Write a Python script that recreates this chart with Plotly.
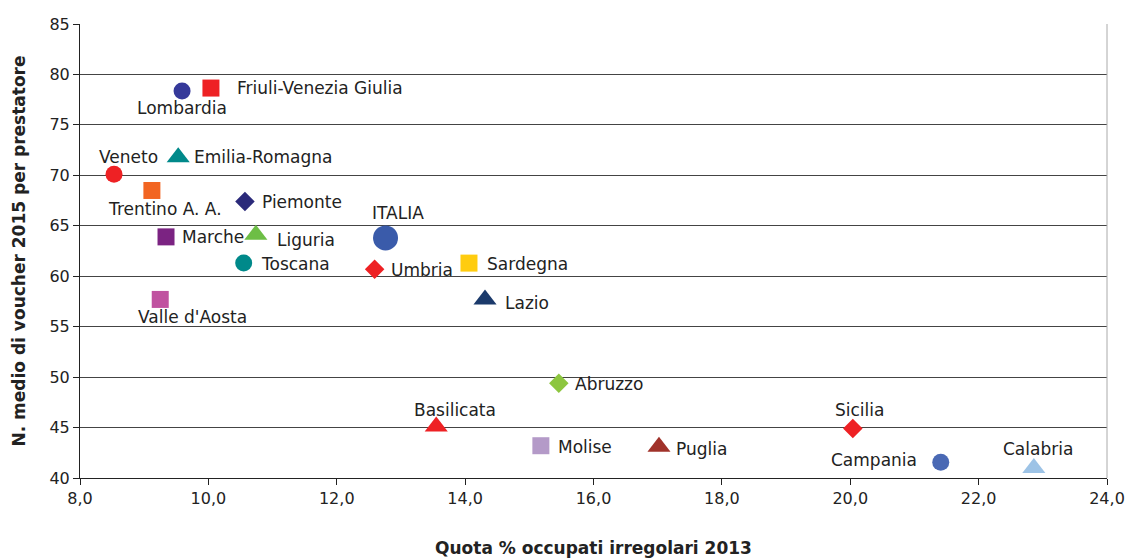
import plotly.graph_objects as go

# data
regioni = [
    "Lombardia", "Friuli-Venezia Giulia", "Veneto", "Emilia-Romagna",
    "Trentino A. A.", "Piemonte", "Marche", "Liguria", "ITALIA", "Toscana",
    "Umbria", "Sardegna", "Lazio", "Valle d'Aosta", "Abruzzo", "Basilicata",
    "Molise", "Puglia", "Sicilia", "Campania", "Calabria",
]
quota_irregolari = [
    9.59, 10.04, 8.53, 9.53, 9.12, 10.57, 9.34, 10.74, 12.76, 10.55,
    12.59, 14.06, 14.31, 9.25, 15.46, 13.55, 15.18, 17.02, 20.04, 21.41, 22.86,
]
voucher_medi = [
    78.35, 78.65, 70.1, 71.8, 68.5, 67.4, 63.9, 64.1, 63.8, 61.3,
    60.7, 61.3, 57.7, 57.7, 49.4, 45.1, 43.2, 43.1, 44.9, 41.55, 41.0,
]
x_ticks = [8, 10, 12, 14, 16, 18, 20, 22, 24]
y_ticks = [40, 45, 50, 55, 60, 65, 70, 75, 80, 85]

# marker style per region: symbol, colour, size
markers = {
    "Lombardia": ("circle", "#35399A", 17),
    "Friuli-Venezia Giulia": ("square", "#EE2124", 17),
    "Veneto": ("circle", "#EE2124", 17),
    "Emilia-Romagna": ("triangle-up", "#00898A", 20),
    "Trentino A. A.": ("square", "#F26522", 17),
    "Piemonte": ("diamond", "#2B2A7A", 15),
    "Marche": ("square", "#7B2382", 17),
    "Liguria": ("triangle-up", "#6DBE45", 20),
    "ITALIA": ("circle", "#3A5BAA", 25),
    "Toscana": ("circle", "#00898A", 17),
    "Umbria": ("diamond", "#EE2124", 15),
    "Sardegna": ("square", "#FFCC0F", 17),
    "Lazio": ("triangle-up", "#1B3A6B", 20),
    "Valle d'Aosta": ("square", "#C052A0", 17),
    "Abruzzo": ("diamond", "#8DC63F", 15),
    "Basilicata": ("triangle-up", "#EE2124", 20),
    "Molise": ("square", "#B49AC8", 17),
    "Puglia": ("triangle-up", "#A0322A", 20),
    "Sicilia": ("diamond", "#EE2124", 15),
    "Campania": ("circle", "#4A69B4", 17),
    "Calabria": ("triangle-up", "#9DC3E6", 20),
}
# label placement relative to the marker: anchor, x shift, y shift (px)
labels = {
    "Lombardia": ("center", 0, -17),
    "Friuli-Venezia Giulia": ("left", 24, 0),
    "Veneto": ("center", 14, 17),
    "Emilia-Romagna": ("left", 14, 0),
    "Trentino A. A.": ("center", 13, -19),
    "Piemonte": ("left", 15, 0),
    "Marche": ("left", 14, 0),
    "Liguria": ("left", 19, -5),
    "ITALIA": ("center", 12, 25),
    "Toscana": ("left", 15, -1),
    "Umbria": ("left", 14, -1),
    "Sardegna": ("left", 16, -1),
    "Lazio": ("left", 18, -4),
    "Valle d'Aosta": ("center", 32, -18),
    "Abruzzo": ("left", 14, -1),
    "Basilicata": ("center", 19, 17),
    "Molise": ("left", 15, -1),
    "Puglia": ("left", 15, -2),
    "Sicilia": ("center", 7, 19),
    "Campania": ("right", -22, 2),
    "Calabria": ("center", 4, 19),
}

font = "DejaVu Sans, Verdana, sans-serif"
ink = "#222222"

fig = go.Figure()
for name, x, y in zip(regioni, quota_irregolari, voucher_medi):
    symbol, color, size = markers[name]
    fig.add_trace(go.Scatter(
        x=[x], y=[y], mode="markers", name=name,
        marker={"symbol": symbol, "color": color, "size": size, "line": {"width": 0}},
        showlegend=False, cliponaxis=False,
    ))
    anchor, dx, dy = labels[name]
    fig.add_annotation(
        x=x, y=y, text=name, showarrow=False,
        xanchor=anchor, yanchor="middle", xshift=dx, yshift=dy,
        font={"family": font, "size": 17, "color": ink},
    )

fig.update_layout(
    width=1128, height=558,
    margin={"l": 80, "r": 21, "t": 24, "b": 80},
    plot_bgcolor="white", paper_bgcolor="white",
    separators=",.",
    font={"family": font, "size": 16, "color": ink},
)
fig.update_xaxes(
    range=[8, 24], tickvals=x_ticks, tickformat=".1f", automargin=False,
    showgrid=False, zeroline=False,
    showline=True, linecolor=ink, linewidth=1,
    ticks="outside", ticklen=6, tickcolor=ink,
    title={"text": "<b>Quota % occupati irregolari 2013</b>", "standoff": 35,
           "font": {"family": font, "size": 17}},
)
fig.update_yaxes(
    range=[40, 85], tickvals=y_ticks, automargin=False,
    showgrid=True, gridcolor="#444444", gridwidth=1, zeroline=False,
    showline=True, linecolor=ink, linewidth=1,
    ticks="outside", ticklen=6, tickcolor=ink,
    title={"text": "<b>N. medio di voucher 2015 per prestatore</b>", "standoff": 19,
           "font": {"family": font, "size": 17}},
)
# light right border of the plot area
fig.add_shape(type="line", xref="paper", yref="paper", x0=1, x1=1, y0=0, y1=1,
              line={"color": "#AAAAAA", "width": 1})

# drop the page's default body margin so the figure fills the window exactly
fig.write_html(
    "out.html",
    config={"displayModeBar": False},
    post_script="document.body.style.margin = '0';",
)
